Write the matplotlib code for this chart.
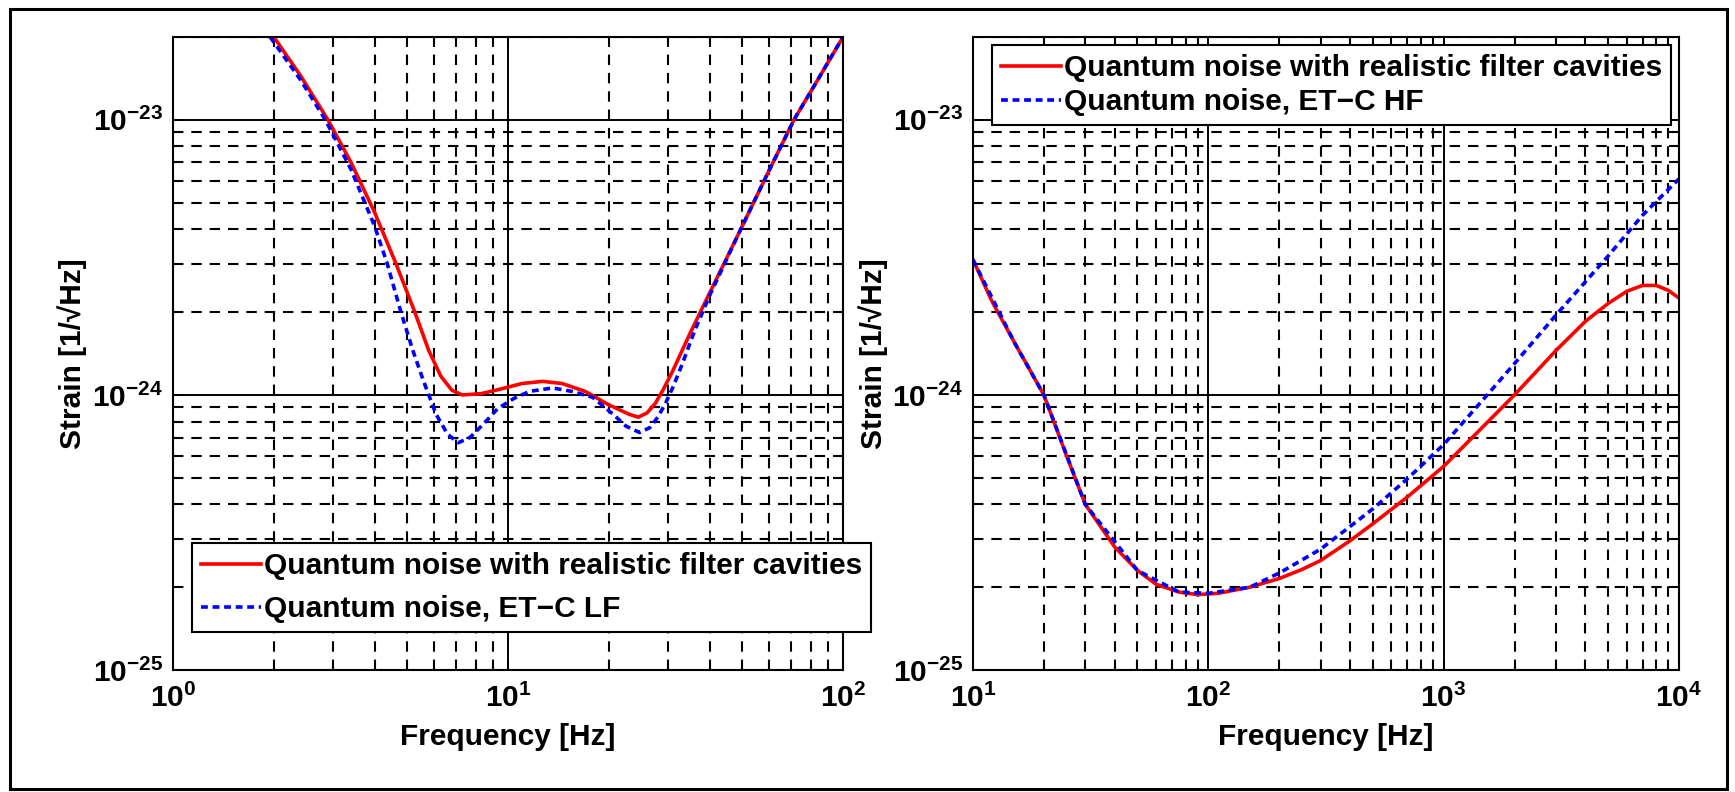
import matplotlib
matplotlib.use("Agg")
import matplotlib.pyplot as plt
from matplotlib.ticker import LogLocator, NullFormatter, LogFormatterSciNotation
from matplotlib.patches import Rectangle

plt.rcParams['font.family'] = ['Liberation Sans', 'DejaVu Sans']
plt.rcParams['font.weight'] = 'bold'
plt.rcParams['axes.labelweight'] = 'bold'
plt.rcParams['mathtext.fontset'] = 'custom'
plt.rcParams['mathtext.rm'] = 'Liberation Sans:bold'
plt.rcParams['mathtext.default'] = 'rm'

# left panel: low-frequency detector
lf_freq_red = [2.0, 2.4, 2.9, 3.4, 4.0, 4.63, 5.27, 5.8, 6.3, 6.8, 7.3, 8.3, 9.5,
               11, 12.7, 14.5, 17, 20, 23, 24.5, 26, 27.5, 29, 31, 35, 40, 50, 60, 71.4, 85, 100]
lf_red = [2.0e-23, 1.45e-23, 1.0e-23, 7.0e-24, 4.6e-24, 3.0e-24, 2.0e-24, 1.45e-24, 1.17e-24,
          1.04e-24, 1.0e-24, 1.01e-24, 1.05e-24, 1.1e-24, 1.12e-24, 1.1e-24, 1.03e-24, 9.2e-25,
          8.5e-25, 8.3e-25, 8.6e-25, 9.3e-25, 1.04e-24, 1.22e-24, 1.68e-24, 2.35e-24, 4.1e-24,
          6.5e-24, 1.0e-23, 1.43e-23, 2.0e-23]
lf_freq_blue = [1.95, 2.4, 2.85, 3.4, 4.0, 4.36, 4.79, 5.2, 5.6, 6.1, 6.6, 7.1, 7.7, 8.5, 9.3,
                10.4, 11.6, 13.6, 15.5, 17.9, 20.6, 22.5, 24.7, 26.5, 28, 29.5, 31, 33, 36, 40,
                50, 60, 71.4, 85, 100]
lf_blue = [2.0e-23, 1.4e-23, 1.0e-23, 6.6e-24, 4.1e-24, 3.0e-24, 2.0e-24, 1.45e-24, 1.12e-24,
           8.5e-25, 7.2e-25, 6.7e-25, 7.0e-25, 7.9e-25, 8.9e-25, 9.7e-25, 1.03e-24, 1.06e-24,
           1.03e-24, 9.8e-25, 8.5e-25, 7.7e-25, 7.3e-25, 7.6e-25, 8.3e-25, 9.3e-25, 1.06e-24,
           1.28e-24, 1.7e-24, 2.3e-24, 4.1e-24, 6.5e-24, 1.0e-23, 1.43e-23, 2.0e-23]

# right panel: high-frequency detector
hf_freq_red = [10, 12, 15, 20, 25, 30, 40, 50, 60, 75, 90, 110, 150, 200, 250, 300, 400, 500,
               700, 1000, 1500, 2000, 3000, 4000, 5000, 6000, 7000, 8000, 9000, 10000]
hf_red = [3.1e-24, 2.2e-24, 1.55e-24, 1.0e-24, 6.0e-25, 4.0e-25, 2.8e-25, 2.3e-25, 2.05e-25,
          1.92e-25, 1.88e-25, 1.9e-25, 2.0e-25, 2.15e-25, 2.32e-25, 2.5e-25, 2.95e-25, 3.4e-25,
          4.25e-25, 5.5e-25, 7.8e-25, 1.0e-24, 1.45e-24, 1.85e-24, 2.15e-24, 2.38e-24, 2.5e-24,
          2.5e-24, 2.4e-24, 2.25e-24]
hf_freq_blue = [10, 15, 20, 30, 50, 75, 100, 150, 200, 300, 500, 700, 1000, 1500, 2000, 3000,
                5000, 7000, 10000]
hf_blue = [3.1e-24, 1.55e-24, 1.0e-24, 4.0e-25, 2.3e-25, 1.92e-25, 1.9e-25, 2.0e-25, 2.25e-25,
           2.75e-25, 3.85e-25, 4.95e-25, 6.6e-25, 9.8e-25, 1.3e-24, 1.95e-24, 3.2e-24, 4.5e-24,
           6.1e-24]

label_red = "Quantum noise with realistic filter cavities"
label_lf = "Quantum noise, ET\u2212C LF"
label_hf = "Quantum noise, ET\u2212C HF"

FS = 21.5
W, H = 1735, 792


def style_axes(ax, xlim):
    ax.set_xscale("log")
    ax.set_yscale("log")
    ax.set_xlim(xlim)
    ax.set_ylim(1e-25, 2e-23)
    for a in (ax.xaxis, ax.yaxis):
        a.set_major_locator(LogLocator(base=10))
        a.set_minor_locator(LogLocator(base=10, subs=range(2, 10)))
        a.set_minor_formatter(NullFormatter())
        a.set_major_formatter(LogFormatterSciNotation())
    ax.grid(True, which="major", color="k", ls="-", lw=1.4)
    ax.grid(True, which="minor", color="k", ls=(0, (5, 3.8)), lw=1.5)
    ax.tick_params(which="both", direction="in", top=True, right=True, width=1.3,
                   labelsize=FS)
    ax.tick_params(which="major", length=7, pad=10)
    ax.tick_params(which="minor", length=7)
    ax.tick_params(axis="y", which="major", pad=7)
    for s in ax.spines.values():
        s.set_linewidth(1.5)
    ax.set_xlabel("Frequency [Hz]", fontsize=FS, labelpad=7)
    ax.set_ylabel("Strain [1/\u221aHz]", fontsize=FS)
    ax.set_axisbelow(True)


fig = plt.figure(figsize=(W / 100, H / 100), dpi=100)
ax1 = fig.add_axes([173 / W, 1 - 670 / H, 670 / W, 633 / H])
ax2 = fig.add_axes([973 / W, 1 - 670 / H, 706 / W, 633 / H])

style_axes(ax1, (1, 100))
style_axes(ax2, (10, 1e4))

ax1.plot(lf_freq_red, lf_red, color="#ff0000", lw=2.6, label=label_red)
ax1.plot(lf_freq_blue, lf_blue, color="#0000ff", lw=2.6, dashes=(1.9, 1.3), label=label_lf)
ax2.plot(hf_freq_red, hf_red, color="#ff0000", lw=2.6, label=label_red)
ax2.plot(hf_freq_blue, hf_blue, color="#0000ff", lw=2.6, dashes=(1.9, 1.3), label=label_hf)

ax1.yaxis.set_label_coords(-0.128, 0.5)
ax2.yaxis.set_label_coords(-0.121, 0.5)

leg_kw = dict(fontsize=FS, fancybox=False, framealpha=1, edgecolor="k", borderaxespad=0,
              handlelength=2.0, handletextpad=0.1, borderpad=0.3)
l1 = ax1.legend(loc="lower left", bbox_to_anchor=(0.0284, 0.060), labelspacing=0.5, **leg_kw)
l2 = ax2.legend(loc="upper right", bbox_to_anchor=(0.9887, 0.987), labelspacing=0.2, **leg_kw)
for lg in (l1, l2):
    lg.get_frame().set_linewidth(1.5)
    lg.set_zorder(5)

fig.add_artist(Rectangle((10 / W, 1 - 789 / H), 1717 / W, 780 / H, transform=fig.transFigure,
                         fill=False, edgecolor="k", lw=2.2))

fig.savefig("out.png", dpi=100)
